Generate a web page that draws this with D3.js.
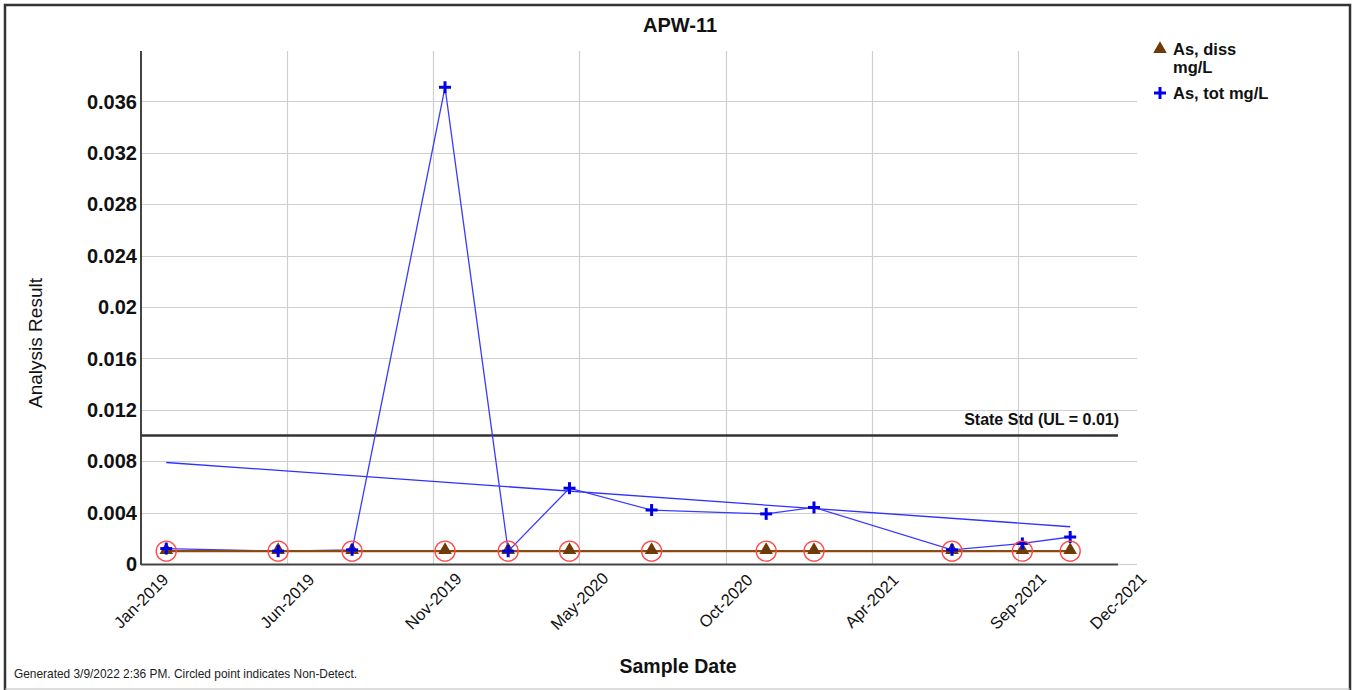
<!DOCTYPE html>
<html>
<head>
<meta charset="utf-8">
<script src="https://cdn.jsdelivr.net/npm/d3@7"></script>
<style>
  html, body { margin: 0; padding: 0; background: #fff; }
  svg { display: block; font-family: "Liberation Sans", Arial, sans-serif; }
</style>
</head>
<body>
<svg id="chart" width="1355" height="690"></svg>
<script>
// ---------- data ----------
const sampleDates = ["2019-01-29","2019-06-02","2019-08-23","2019-12-04","2020-02-12","2020-04-20",
                     "2020-07-20","2020-11-24","2021-01-16","2021-06-18","2021-09-04","2021-10-27"];
const asDiss = [0.001,0.001,0.001,0.001,0.001,0.001,0.001,0.001,0.001,0.001,0.001,0.001];
const asDissND = [true,true,true,true,true,true,true,true,true,true,true,true];
const asTot = [0.0012,0.001,0.0011,0.0371,0.001,0.0059,0.0042,0.0039,0.0044,0.0011,0.0016,0.0021];
const trendDates = ["2019-01-29","2021-10-27"];
const trendValues = [0.0079,0.0029];
const stateStd = 0.01;
const xDomain = ["2019-01-01","2021-12-19"];
const xTickDates = ["2019-01-01","2019-06-12","2019-11-21","2020-05-01","2020-10-10","2021-03-21","2021-08-30","2021-12-19"];
const xTickLabels = ["Jan-2019","Jun-2019","Nov-2019","May-2020","Oct-2020","Apr-2021","Sep-2021","Dec-2021"];
const yTicks = [0,0.004,0.008,0.012,0.016,0.02,0.024,0.028,0.032,0.036];
const yTickLabels = ["0","0.004","0.008","0.012","0.016","0.02","0.024","0.028","0.032","0.036"];
const seriesNames = ["As, diss", "mg/L", "As, tot mg/L"];

// ---------- layout ----------
const parse = d3.utcParse("%Y-%m-%d");
const L = 141, R = 1118, T = 51, B = 564, gridR = 1137;
const svg = d3.select("#chart");

const x = d3.scaleUtc().domain(xDomain.map(parse)).range([L, R]);
const y = d3.scaleLinear().domain([0, 0.04]).range([B, B - 514]);

// frame
svg.append("rect").attr("x", 5).attr("y", 5).attr("width", 1345).attr("height", 700)
  .attr("fill", "none").attr("stroke", "#333").attr("stroke-width", 2.5);
svg.append("line").attr("x1", 5).attr("x2", 1350).attr("y1", 689).attr("y2", 689)
  .attr("stroke", "#bbb").attr("stroke-width", 1);

// horizontal gridlines
svg.append("g").selectAll("line").data(yTicks.filter(d => d > 0)).join("line")
  .attr("x1", L).attr("x2", gridR)
  .attr("y1", d => Math.round(y(d)) + 0.5).attr("y2", d => Math.round(y(d)) + 0.5)
  .attr("stroke", "#cfcfcf").attr("stroke-width", 1.2);
svg.append("line").attr("x1", R).attr("x2", gridR).attr("y1", B + 0.5).attr("y2", B + 0.5)
  .attr("stroke", "#cfcfcf").attr("stroke-width", 1.2);

// vertical gridlines
svg.append("g").selectAll("line").data(xTickDates.slice(1, -1)).join("line")
  .attr("x1", d => Math.round(x(parse(d))) + 0.5).attr("x2", d => Math.round(x(parse(d))) + 0.5)
  .attr("y1", T).attr("y2", B)
  .attr("stroke", "#cfcfcf").attr("stroke-width", 1.2);

// axes lines
svg.append("line").attr("x1", L).attr("x2", L).attr("y1", T).attr("y2", B + 1)
  .attr("stroke", "#444").attr("stroke-width", 2);
svg.append("line").attr("x1", L).attr("x2", R).attr("y1", B + 0.5).attr("y2", B + 0.5)
  .attr("stroke", "#444").attr("stroke-width", 2);

// y tick labels
svg.append("g").selectAll("text").data(yTicks).join("text")
  .attr("x", 137).attr("y", d => y(d)).attr("dy", "0.36em")
  .attr("text-anchor", "end").attr("font-size", 20).attr("font-weight", "bold").attr("fill", "#111")
  .text((d, i) => yTickLabels[i]);

// x tick labels
svg.append("g").selectAll("text").data(xTickDates).join("text")
  .attr("transform", d => `translate(${x(parse(d))},601) rotate(-45)`)
  .attr("text-anchor", "middle").attr("dy", "0.35em")
  .attr("font-size", 16.5).attr("fill", "#111")
  .text((d, i) => xTickLabels[i]);

// state standard
svg.append("line").attr("x1", L).attr("x2", R).attr("y1", y(stateStd)).attr("y2", y(stateStd))
  .attr("stroke", "#333").attr("stroke-width", 2.5);
svg.append("text").attr("x", 1119).attr("y", y(stateStd) - 11)
  .attr("text-anchor", "end").attr("font-size", 16).attr("font-weight", "bold").attr("fill", "#111")
  .text("State Std (UL = " + stateStd + ")");

// trend line
const trend = trendDates.map((d, i) => ({ d: parse(d), v: trendValues[i] }));
svg.append("path").datum(trend)
  .attr("d", d3.line().x(p => x(p.d)).y(p => y(p.v)))
  .attr("fill", "none").attr("stroke", "#3030ff").attr("stroke-width", 1.3);

const dates = sampleDates.map(parse);
const totData = dates.map((d, i) => ({ d, v: asTot[i] }));
const dissData = dates.map((d, i) => ({ d, v: asDiss[i], nd: asDissND[i] }));

// tot line
svg.append("path").datum(totData)
  .attr("d", d3.line().x(p => x(p.d)).y(p => y(p.v)))
  .attr("fill", "none").attr("stroke", "#3a3aff").attr("stroke-width", 1.3);

// diss line
svg.append("path").datum(dissData)
  .attr("d", d3.line().x(p => x(p.d)).y(p => y(p.v)))
  .attr("fill", "none").attr("stroke", "#8a4a10").attr("stroke-width", 2.2);

// triangles
const tri = d3.symbol().type(d3.symbolTriangle).size(80);
svg.append("g").selectAll("path").data(dissData).join("path")
  .attr("d", tri)
  .attr("transform", p => `translate(${x(p.d)},${y(p.v) - 1})`)
  .attr("fill", "#6e3a05");

// plus markers
function plus(g, cx, cy) {
  g.append("line").attr("x1", cx - 6).attr("x2", cx + 6).attr("y1", cy).attr("y2", cy)
    .attr("stroke", "#0000e6").attr("stroke-width", 3);
  g.append("line").attr("x1", cx).attr("x2", cx).attr("y1", cy - 6).attr("y2", cy + 6)
    .attr("stroke", "#0000e6").attr("stroke-width", 3);
}
const plusG = svg.append("g");
totData.forEach(p => plus(plusG, x(p.d), y(p.v)));

// non-detect circles
svg.append("g").selectAll("circle").data(dissData.filter(p => p.nd)).join("circle")
  .attr("cx", p => x(p.d)).attr("cy", p => y(p.v))
  .attr("r", 10).attr("fill", "none").attr("stroke", "#ff4a4a").attr("stroke-width", 1.4);

// title & axis titles
svg.append("text").attr("x", 680).attr("y", 32).attr("text-anchor", "middle")
  .attr("font-size", 20).attr("font-weight", "bold").attr("fill", "#111").text("APW-11");
svg.append("text").attr("x", 678).attr("y", 673).attr("text-anchor", "middle")
  .attr("font-size", 19.5).attr("font-weight", "bold").attr("fill", "#111").text("Sample Date");
svg.append("text").attr("transform", "translate(42,343) rotate(-90)").attr("text-anchor", "middle")
  .attr("font-size", 19).attr("fill", "#111").text("Analysis Result");

// legend
svg.append("path").attr("d", tri).attr("transform", "translate(1160,49)").attr("fill", "#6e3a05");
svg.append("text").attr("x", 1173).attr("y", 55).attr("font-size", 16.5).attr("font-weight", "bold")
  .attr("fill", "#111").text(seriesNames[0]);
svg.append("text").attr("x", 1173).attr("y", 73).attr("font-size", 16.5).attr("font-weight", "bold")
  .attr("fill", "#111").text(seriesNames[1]);
plus(svg.append("g"), 1160, 93);
svg.append("text").attr("x", 1173).attr("y", 99).attr("font-size", 16.5).attr("font-weight", "bold")
  .attr("fill", "#111").text(seriesNames[2]);

// footer
svg.append("text").attr("x", 14).attr("y", 678).attr("font-size", 11.9).attr("fill", "#222")
  .text("Generated 3/9/2022 2:36 PM. Circled point indicates Non-Detect.");
</script>
</body>
</html>
